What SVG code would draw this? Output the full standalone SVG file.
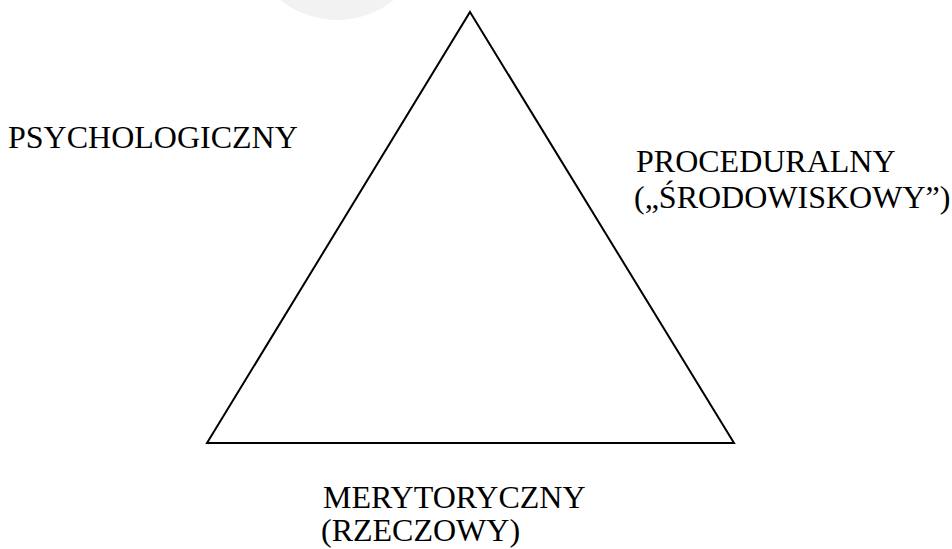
<svg xmlns="http://www.w3.org/2000/svg" width="952" height="549" viewBox="0 0 952 549">
<style>
text{font-family:"Liberation Serif","Times New Roman",serif;font-size:32px;fill:#000}
.tri{fill:none;stroke:#000;stroke-width:2}
</style>
<rect width="952" height="549" fill="#fff"/>
<circle cx="337" cy="-71" r="91" fill="#f2f2f2"/>
<g id="connectors">
<polygon class="tri" points="470,12 734,443 207,443"/>
</g>
<g id="psychologiczny"><text x="8" y="148">PSYCHOLOGICZNY</text></g>
<g id="proceduralny"><text x="636" y="172">PROCEDURALNY</text><text x="634" y="208">(„ŚRODOWISKOWY”)</text></g>
<g id="merytoryczny"><text x="323" y="508">MERYTORYCZNY</text><text x="321" y="541">(RZECZOWY)</text></g>
</svg>
